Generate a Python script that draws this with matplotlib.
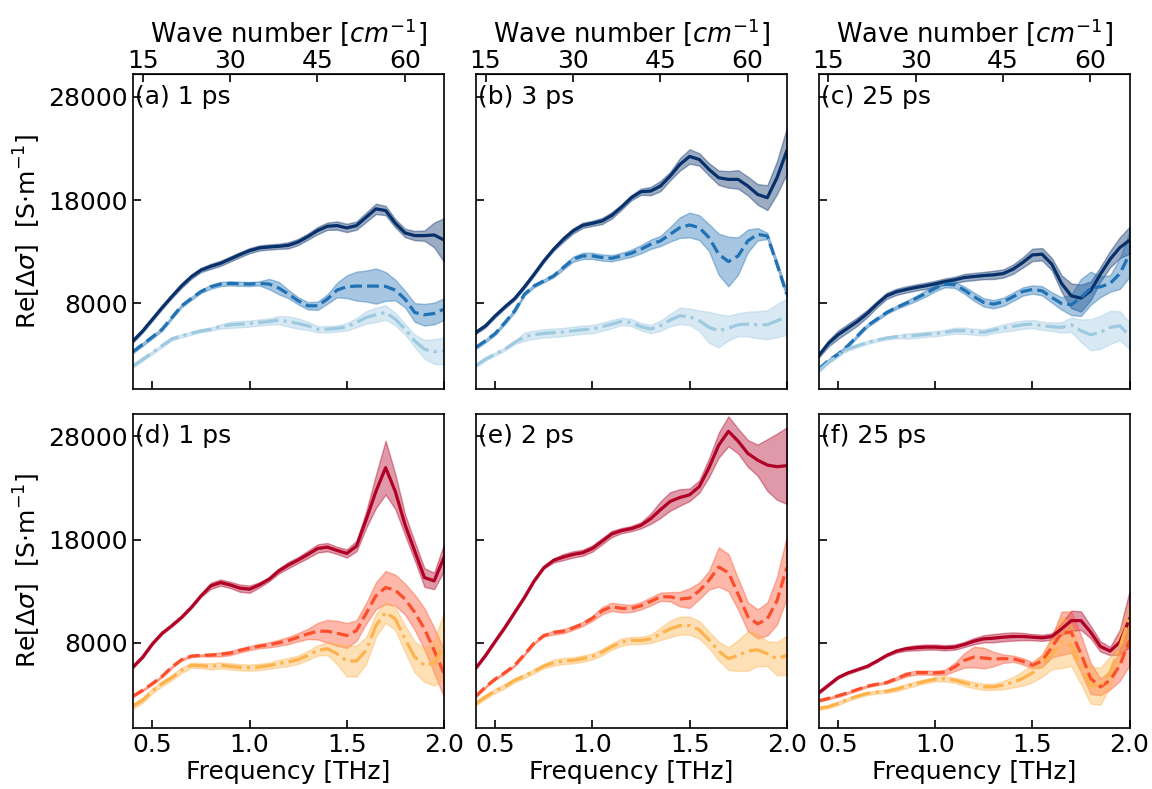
import matplotlib
matplotlib.use("Agg")
import matplotlib.pyplot as plt
import numpy as np

plt.rcParams['font.family'] = 'DejaVu Sans'
plt.rcParams['font.size'] = 18
plt.rcParams['mathtext.fontset'] = 'dejavusans'

THZ_TO_CM = 33.356

freq = [0.40, 0.45, 0.50, 0.55, 0.60, 0.65, 0.70, 0.75, 0.80, 0.85, 0.90,
        0.95, 1.00, 1.05, 1.10, 1.15, 1.20, 1.25, 1.30, 1.35, 1.40, 1.45,
        1.50, 1.55, 1.60, 1.65, 1.70, 1.75, 1.80, 1.85, 1.90, 1.95, 2.00]

# (a) 1 ps
a_solid = [4376, 5346, 6479, 7612, 8680, 9715, 10589, 11236, 11592, 11883, 12304,
           12725, 13113, 13372, 13469, 13534, 13631, 13954, 14472, 15055, 15475, 15540,
           15313, 15540, 16349, 17158, 16996, 15766, 14828, 14569, 14569, 14634, 14149]
a_solid_err = [150, 150, 150, 150, 150, 200, 200, 200, 250, 250, 250,
               250, 250, 250, 250, 250, 300, 300, 300, 350, 350, 400,
               400, 400, 450, 500, 450, 400, 400, 450, 500, 1200, 2100]
a_dash = [3340, 4052, 4764, 5508, 6641, 7773, 8485, 9165, 9618, 9877, 9942,
          9909, 9877, 9942, 9877, 9489, 8906, 8259, 7773, 7773, 8421, 9294,
          9618, 9683, 9683, 9683, 9650, 9294, 8421, 7126, 6900, 7029, 7450]
a_dash_err = [150, 150, 150, 150, 150, 150, 150, 150, 200, 200, 200,
              200, 200, 200, 500, 600, 400, 350, 350, 400, 450, 700,
              1100, 1400, 1500, 1700, 1400, 1000, 800, 900, 1050, 1050, 1050]
a_dot = [1949, 2596, 3243, 3923, 4570, 4861, 5120, 5347, 5508, 5767, 5929,
         5994, 6058, 6155, 6253, 6382, 6253, 6058, 5832, 5508, 5508, 5573,
         5735, 6155, 6641, 6900, 7126, 6479, 5508, 4376, 3567, 3340, 3405]
a_dot_err = [150, 150, 150, 150, 150, 150, 150, 150, 150, 200, 300,
             300, 300, 300, 300, 400, 500, 500, 400, 300, 300, 300,
             350, 450, 600, 700, 700, 600, 500, 600, 900, 1200, 1300]

# (b) 3 ps
b_solid = [5199, 5843, 6809, 7678, 8483, 9610, 10834, 12122, 13249, 14215, 15020,
           15567, 15760, 15986, 16533, 17338, 18240, 18819, 18884, 19367, 20333, 21460,
           22232, 21943, 20977, 20172, 20011, 20011, 19367, 18562, 18240, 20170, 22748]
b_solid_err = [150, 150, 150, 150, 150, 150, 150, 150, 150, 250, 250,
               250, 250, 300, 300, 250, 250, 300, 400, 500, 400, 600,
               700, 600, 600, 700, 800, 900, 900, 1000, 1200, 1600, 2200]
b_dash = [3750, 4394, 5102, 6165, 7292, 8902, 9707, 10190, 10673, 11478, 12283,
          12605, 12605, 12444, 12379, 12605, 12862, 13249, 13732, 14054, 14698, 15342,
          15599, 15342, 14376, 12766, 12057, 12605, 14054, 14698, 14537, 11800, 8902]
b_dash_err = [150, 150, 150, 150, 150, 150, 150, 150, 150, 200, 250,
              300, 300, 300, 300, 300, 350, 400, 450, 500, 700, 1000,
              1200, 1200, 1300, 2000, 2400, 1800, 1100, 600, 300, 300, 300]
b_dot = [1979, 2623, 3106, 3589, 4233, 4780, 4973, 5102, 5166, 5231, 5360,
         5456, 5521, 5746, 6004, 6262, 6165, 5746, 5521, 5843, 6390, 6809,
         6712, 6326, 5682, 5360, 5617, 5939, 6004, 5939, 5939, 6326, 6712]
b_dot_err = [150, 150, 150, 150, 150, 400, 400, 400, 400, 400, 400,
             400, 400, 400, 400, 350, 350, 350, 400, 500, 600, 800,
             800, 1000, 1500, 1600, 1200, 1100, 1200, 1300, 1400, 1600, 1750]

# (c) 25 ps
c_solid = [2945, 4136, 4973, 5617, 6261, 7034, 7936, 8741, 9127, 9352, 9546,
           9707, 9900, 10125, 10286, 10512, 10608, 10705, 10769, 10898, 11317, 11961,
           12701, 12766, 11800, 9932, 8741, 8515, 9224, 10834, 12283, 13410, 14118]
c_solid_err = [200, 300, 400, 400, 400, 350, 300, 300, 300, 300, 300,
               300, 300, 300, 300, 350, 350, 350, 400, 400, 450, 500,
               600, 600, 600, 800, 1200, 1300, 900, 700, 800, 1000, 1300]
c_dash = [1657, 2462, 3106, 3911, 4877, 5843, 6487, 7131, 7614, 8032, 8483,
          8966, 9481, 9868, 9804, 9288, 8644, 8097, 7936, 8161, 8644, 9159,
          9352, 9224, 8580, 8000, 7871, 8580, 9481, 9610, 9932, 10898, 12766]
c_dash_err = [150, 150, 150, 150, 150, 150, 150, 150, 150, 200, 250,
              300, 300, 300, 300, 350, 400, 400, 400, 400, 400, 400,
              400, 450, 500, 600, 1000, 1800, 1600, 1000, 800, 1500, 2200]
c_dot = [1496, 2301, 3009, 3589, 3911, 4233, 4458, 4651, 4780, 4844, 4909,
         5005, 5070, 5199, 5360, 5360, 5263, 5199, 5424, 5617, 5778, 5939,
         6004, 5843, 5746, 5682, 5939, 5360, 4973, 5199, 5682, 5843, 4877]
c_dot_err = [150, 150, 150, 150, 150, 150, 150, 150, 150, 250, 250,
             250, 250, 250, 300, 300, 300, 300, 300, 350, 400, 400,
             400, 400, 400, 500, 700, 1100, 1500, 1600, 1600, 1400, 1300]

# (d) 1 ps
d_solid = [5660, 6622, 7904, 8929, 9667, 10468, 11429, 12551, 13513, 13833, 13609,
           13288, 13192, 13609, 14154, 14955, 15532, 16013, 16557, 17134, 17263, 16942,
           16654, 17359, 19923, 22647, 24954, 22647, 19442, 16878, 14314, 13993, 16237]
d_solid_err = [100, 100, 100, 100, 100, 100, 100, 100, 300, 300, 300,
               350, 350, 250, 200, 250, 300, 300, 350, 400, 400, 350,
               400, 500, 800, 1600, 2600, 1700, 1000, 900, 900, 800, 1300]
d_dash = [2840, 3417, 4058, 4763, 5660, 6365, 6718, 6782, 6814, 6878, 7006,
          7263, 7487, 7680, 7808, 8000, 8224, 8545, 8865, 9122, 9122, 8929,
          8705, 9186, 10852, 12551, 13352, 13096, 12231, 10949, 9346, 7263, 5083]
d_dash_err = [100, 100, 100, 100, 100, 100, 100, 100, 150, 200, 200,
              200, 200, 200, 250, 300, 350, 400, 500, 800, 1100, 1200,
              1200, 1000, 1000, 1300, 1600, 1500, 1500, 1700, 2000, 2200, 2300]
d_dot = [1878, 2455, 3353, 4058, 4635, 5340, 5821, 5789, 5724, 5821, 5724,
         5628, 5596, 5660, 5789, 5981, 6141, 6365, 6782, 7263, 7423, 6942,
         6237, 6237, 7263, 9667, 10949, 10308, 8385, 6622, 5821, 6045, 7744]
d_dot_err = [250, 250, 250, 250, 250, 250, 250, 250, 300, 300, 300,
             300, 300, 300, 300, 350, 400, 400, 450, 500, 600, 1000,
             1500, 1500, 1300, 1100, 1000, 1100, 1300, 1500, 1600, 2200, 3200]

# (e) 2 ps
e_solid = [5564, 6782, 8160, 9506, 10949, 12391, 13993, 15275, 15980, 16301, 16557,
           16718, 17134, 17839, 18544, 18865, 19057, 19378, 20019, 20884, 21686, 22070,
           22327, 23128, 24955, 27134, 28480, 27519, 26333, 25692, 25211, 25051, 25147]
e_solid_err = [100, 100, 100, 100, 100, 100, 100, 100, 200, 300, 300,
               300, 300, 300, 300, 250, 250, 300, 500, 800, 900, 800,
               600, 600, 900, 1200, 1450, 1200, 1300, 1500, 2500, 3200, 3700]
e_dash = [2840, 3737, 4507, 5116, 5821, 6878, 7968, 8705, 8994, 9122, 9442,
          9827, 10372, 11109, 11493, 11333, 11333, 11590, 12006, 12455, 12455, 12231,
          12327, 13032, 14058, 15339, 14795, 12711, 10532, 9827, 10308, 12070, 15275]
e_dash_err = [100, 100, 100, 100, 100, 100, 100, 100, 200, 200, 200,
              200, 250, 350, 400, 400, 350, 350, 400, 400, 450, 700,
              950, 800, 900, 1900, 1800, 1500, 1400, 1400, 1600, 2300, 3000]
e_dot = [2135, 2776, 3353, 3801, 4378, 4795, 5244, 5756, 6077, 6237, 6301,
         6462, 6686, 7103, 7647, 8064, 8224, 8224, 8385, 8865, 9346, 9667,
         9667, 9250, 8288, 7199, 6462, 6782, 7199, 7327, 6942, 6462, 6782]
e_dot_err = [200, 200, 200, 200, 200, 200, 200, 200, 300, 300, 300,
             300, 300, 300, 300, 350, 350, 350, 400, 600, 800, 870,
             870, 850, 800, 900, 1100, 1500, 1900, 1600, 1200, 1600, 1900]

# (f) 25 ps
f_solid = [3161, 3897, 4635, 5083, 5404, 5724, 6237, 6782, 7199, 7423, 7519,
           7583, 7583, 7519, 7583, 7840, 8160, 8385, 8449, 8545, 8609, 8609,
           8545, 8481, 8609, 9346, 10147, 10147, 9026, 7647, 7199, 8064, 10308]
f_solid_err = [100, 100, 100, 100, 100, 100, 100, 100, 150, 200, 250,
               250, 250, 250, 250, 250, 300, 350, 400, 400, 400, 350,
               300, 300, 300, 600, 960, 900, 600, 500, 400, 1200, 2700]
f_dash = [2391, 2616, 2872, 3161, 3481, 3801, 3994, 4154, 4539, 4924, 5116,
          5116, 5084, 5148, 5660, 6301, 6622, 6526, 6430, 6462, 6462, 6205,
          5821, 6237, 7583, 8929, 9026, 6942, 4539, 3737, 4378, 5821, 8224]
f_dash_err = [100, 100, 100, 100, 100, 100, 100, 100, 150, 200, 200,
              200, 200, 250, 400, 700, 1000, 1000, 700, 400, 300, 300,
              300, 600, 1000, 2100, 2000, 1800, 1500, 800, 900, 1500, 2400]
f_dot = [1654, 1814, 2135, 2519, 2840, 3096, 3225, 3321, 3513, 3801, 4058,
         4282, 4475, 4507, 4378, 4122, 3897, 3737, 3737, 3897, 4186, 4539,
         5084, 5821, 6942, 8064, 7744, 5500, 3897, 3801, 5180, 7583, 10468]
f_dot_err = [150, 150, 150, 150, 150, 150, 150, 150, 200, 200, 200,
             200, 200, 250, 250, 300, 300, 300, 300, 400, 500, 700,
             900, 1100, 1500, 2500, 2000, 1500, 1800, 1800, 1500, 1500, 1500]

panel_labels = ['(a) 1 ps', '(b) 3 ps', '(c) 25 ps', '(d) 1 ps', '(e) 2 ps', '(f) 25 ps']
blues = ['#08306b', '#2171b5', '#9ecae1']
reds = ['#b10026', '#fc4e2a', '#feb24c']
styles = ['-', '--', '-.']

panels = [
    [(a_solid, a_solid_err), (a_dash, a_dash_err), (a_dot, a_dot_err)],
    [(b_solid, b_solid_err), (b_dash, b_dash_err), (b_dot, b_dot_err)],
    [(c_solid, c_solid_err), (c_dash, c_dash_err), (c_dot, c_dot_err)],
    [(d_solid, d_solid_err), (d_dash, d_dash_err), (d_dot, d_dot_err)],
    [(e_solid, e_solid_err), (e_dash, e_dash_err), (e_dot, e_dot_err)],
    [(f_solid, f_solid_err), (f_dash, f_dash_err), (f_dot, f_dot_err)],
]


def thz2cm(x):
    return x * THZ_TO_CM


def cm2thz(x):
    return x / THZ_TO_CM


fig, axes = plt.subplots(2, 3, figsize=(11.52, 7.89), dpi=100, sharex=True, sharey=True)
fig.subplots_adjust(left=0.1155, right=0.9805, top=0.906, bottom=0.0773,
                    wspace=0.103, hspace=0.079)

x = np.array(freq)
for i, ax in enumerate(axes.flat):
    cols = blues if i < 3 else reds
    for (mean, err), c, ls in zip(panels[i], cols, styles):
        mean = np.array(mean)
        err = np.array(err)
        ax.fill_between(x, mean - err, mean + err, color=c, alpha=0.4)
        ax.plot(x, mean, color=c, ls=ls, lw=2.3, solid_joinstyle='round')

    ax.set_xlim(0.4, 2.0)
    ax.set_ylim(-250, 30200)
    ax.set_xticks([0.5, 1.0, 1.5, 2.0])
    ax.set_yticks([8000, 18000, 28000])
    ax.tick_params(direction='in', length=6, width=1.2, labelsize=18)
    ax.text(0.41, 28000, panel_labels[i], va='center', ha='left', fontsize=18)
    for sp in ax.spines.values():
        sp.set_linewidth(1.2)

    if i < 3:
        # wave-number scale along the top of the upper row
        sec = ax.secondary_xaxis('top', functions=(thz2cm, cm2thz))
        sec.set_xticks([15, 30, 45, 60])
        sec.tick_params(direction='in', length=6, width=1.2, labelsize=18, pad=1)
        sec.set_xlabel('Wave number [$cm^{-1}$]', fontsize=18.5, labelpad=5)
    else:
        ax.set_xlabel('Frequency [THz]', fontsize=18, labelpad=2)
        ax.set_xticklabels(['0.5', '1.0', '1.5', '2.0'])

    if i % 3 == 0:
        ax.set_ylabel('Re[$\\Delta\\sigma$]  [S$\\cdot$m$^{-1}$]', fontsize=18, labelpad=4)
        ax.set_yticklabels(['8000', '18000', '28000'])

fig.savefig('out.png', dpi=100)
